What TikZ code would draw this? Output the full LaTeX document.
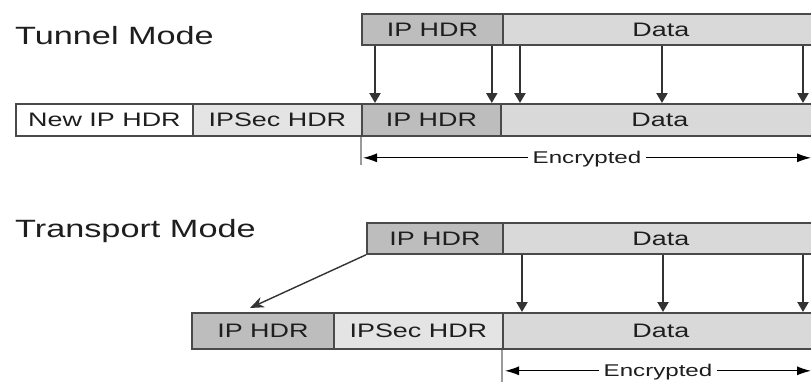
\documentclass[tikz,border=0pt]{standalone}
\usepackage{fontspec}
\setmainfont{Liberation Sans}
\newfontfamily\cellfont[FakeStretch=1.38]{Liberation Sans}
\newfontfamily\titlefont[FakeStretch=1.37]{Liberation Sans}
\newfontfamily\notefont[FakeStretch=1.42]{Liberation Sans}
\usetikzlibrary{arrows.meta,calc}

\definecolor{edge}{HTML}{4A4A4A}
\definecolor{hdrdark}{HTML}{BDBDBD}
\definecolor{datafill}{HTML}{D9D9D9}
\definecolor{secfill}{HTML}{E4E4E4}
\definecolor{guide}{HTML}{9A9A9A}
\definecolor{ink}{HTML}{1E1E1E}

\tikzset{
  cell/.style={draw=edge, line width=1.8pt, anchor=north west, inner sep=0pt, text=ink,
    font=\cellfont\fontsize{19.5}{20}\selectfont, text height=14pt, text depth=0pt},
  iphdr/.style={cell, fill=hdrdark},
  sechdr/.style={cell, fill=secfill},
  newhdr/.style={cell, fill=white},
  payload/.style={cell, fill=datafill},
  celltext/.style={inner sep=0pt, text=ink, font=\cellfont\fontsize{19.5}{20}\selectfont, text height=14pt, text depth=0pt},
  title/.style={anchor=west, inner sep=0pt, text=ink, font=\titlefont\fontsize{25}{26}\selectfont},
  feed/.style={draw=black!80, line width=2.2pt, -{Triangle[length=10pt,width=11pt]}},
  diag/.style={draw=black!80, line width=1.4pt, -{Stealth[length=14pt,width=11pt]}},
  span/.style={draw=black, line width=1.1pt, {Latex[length=14pt,width=9pt]}-{Latex[length=14pt,width=9pt]}},
  spanlabel/.style={fill=white, inner xsep=5pt, inner ysep=0pt, text=ink,
    font=\notefont\fontsize{17}{18}\selectfont, text height=12pt, text depth=0pt},
  guideline/.style={draw=guide, line width=1.8pt}
}

\begin{document}
\begin{tikzpicture}[x=1pt, y=-1pt]
\useasboundingbox[fill=white] (0,0) rectangle (811,381);

% ---------------- Tunnel mode ----------------
\node[title] (tTitle) at (15,36) {Tunnel Mode};

% original packet
\node[iphdr, minimum width=141pt, minimum height=31pt] (tIP) at (361,13) {IP HDR};
\node[payload, minimum width=330pt, minimum height=31pt] (tData) at (502,13) {};
\node[celltext] (tDataLbl) at ($(tData.center)+(-7,0)$) {Data};

% encapsulated packet
\node[newhdr, minimum width=177pt, minimum height=32pt] (tNew) at (15,103) {New IP HDR};
\node[sechdr, minimum width=169pt, minimum height=32pt] (tSec) at (192,103) {IPSec HDR};
\node[iphdr, minimum width=139pt, minimum height=32pt] (bIP) at (361,103) {IP HDR};
\node[payload, minimum width=330pt, minimum height=32pt] (bData) at (500,103) {};
\node[celltext] (bDataLbl) at ($(bData.center)+(-6,0)$) {Data};

% copy arrows
\draw[feed] ([xshift=14pt]tIP.south west) -- ([xshift=14pt]tIP.south west |- bIP.north);
\draw[feed] ([xshift=-12pt]tIP.south east) -- ([xshift=-12pt]tIP.south east |- bIP.north);
\draw[feed] ([xshift=18pt]tData.south west) -- ([xshift=18pt]tData.south west |- bData.north);
\draw[feed] ([xshift=160pt]tData.south west) -- ([xshift=160pt]tData.south west |- bData.north);
\draw[feed] ([xshift=301pt]tData.south west) -- ([xshift=301pt]tData.south west |- bData.north);

% encrypted span
\coordinate (tEncL) at ($(bIP.south west)+(0,28)$);
\coordinate (tEncR) at (tEncL -| 811,0);
\coordinate (tArrL) at ($(tEncL)+(2,-7)$);
\coordinate (tArrR) at ($(tEncR)+(0,-7)$);
\draw[guideline] (bIP.south west) -- (tEncL);
\draw[span] (tArrL) -- (tArrR);
\node[spanlabel] (tEnc) at ($(tArrL)!0.5!(tArrR)$) {Encrypted};

% ---------------- Transport mode ----------------
\node[title] (pTitle) at (15,231) {Transport Mode};

% original packet
\node[iphdr, minimum width=136pt, minimum height=31pt] (pIP) at (366,222) {IP HDR};
\node[payload, minimum width=330pt, minimum height=31pt] (pData) at (502,222) {};
\node[celltext] (pDataLbl) at ($(pData.center)+(-7,0)$) {Data};

% protected packet
\node[iphdr, minimum width=142pt, minimum height=36pt] (qIP) at (191,312) {IP HDR};
\node[sechdr, minimum width=169pt, minimum height=36pt] (qSec) at (333,312) {IPSec HDR};
\node[payload, minimum width=330pt, minimum height=36pt] (qData) at (502,312) {};
\node[celltext] (qDataLbl) at ($(qData.center)+(-7,0)$) {Data};

% header moves to the front
\coordinate (qIPtop) at ($(qIP.north west)+(59,-4)$);
\draw[diag] (pIP.south west) -- (qIPtop);

% copy arrows
\draw[feed] ([xshift=20pt]pData.south west) -- ([xshift=20pt]pData.south west |- qData.north);
\draw[feed] ([xshift=161pt]pData.south west) -- ([xshift=161pt]pData.south west |- qData.north);
\draw[feed] ([xshift=301pt]pData.south west) -- ([xshift=301pt]pData.south west |- qData.north);

% encrypted span
\coordinate (pEncL) at ($(qData.south west)+(0,33)$);
\coordinate (pEncR) at (pEncL -| 811,0);
\coordinate (pArrL) at ($(pEncL)+(3,-12)$);
\coordinate (pArrR) at ($(pEncR)+(0,-12)$);
\draw[guideline] (qData.south west) -- (pEncL);
\draw[span] (pArrL) -- (pArrR);
\node[spanlabel] (pEnc) at ($(pArrL)!0.5!(pArrR)$) {Encrypted};
\end{tikzpicture}
\end{document}
